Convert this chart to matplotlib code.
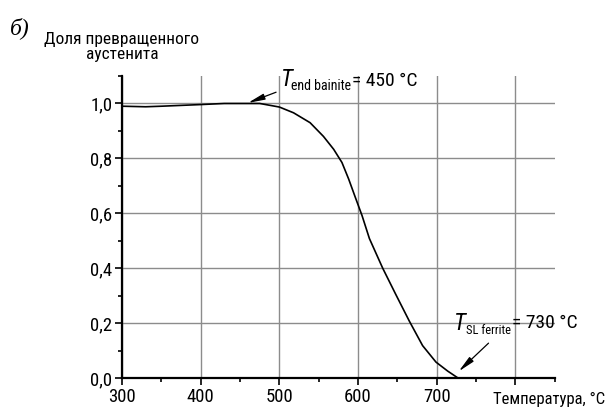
import numpy as np
import matplotlib
matplotlib.use('Agg')
import matplotlib.pyplot as plt
from matplotlib.ticker import MultipleLocator, FuncFormatter

fonts = ['Roboto Condensed', 'Open Sans Condensed', 'Liberation Sans Narrow', 'Liberation Sans', 'DejaVu Sans']
plt.rcParams['font.family'] = fonts

# кривая доли превращенного аустенита
temp = [300, 330, 350, 400, 430, 450, 475, 500, 518, 539, 556, 569, 579.5, 588,
        596.5, 605, 614.4, 631.3, 648, 665, 682, 699, 714, 727, 750]
frac = [0.99, 0.988, 0.99, 0.996, 1.0, 1.0, 1.0, 0.987, 0.966, 0.93, 0.88, 0.833, 0.785, 0.725,
        0.658, 0.592, 0.508, 0.40, 0.304, 0.208, 0.118, 0.058, 0.025, 0.0, 0.0]

x_ticks = [300, 400, 500, 600, 700, 800]
x_labels = ['300', '400', '500', '600', '700', '']
y_ticks = [0.0, 0.2, 0.4, 0.6, 0.8, 1.0]

fig = plt.figure(figsize=(6.11, 4.08), dpi=100)
ax = fig.add_axes([0.1997, 0.0735, 0.7083, 0.7402])

ax.plot(temp, frac, color='black', lw=1.2)

ax.set_xlim(300, 850)
ax.set_ylim(0, 1.1)
ax.set_xticks(x_ticks)
ax.set_xticklabels(x_labels)
ax.set_yticks(y_ticks)
ax.yaxis.set_major_formatter(FuncFormatter(lambda v, p: ('%.1f' % v).replace('.', ',')))
ax.xaxis.set_minor_locator(MultipleLocator(50))
ax.yaxis.set_minor_locator(MultipleLocator(0.1))
ax.grid(True, which='major', color='#8c8c8c', lw=1.0)
ax.set_axisbelow(True)

for s in ['top', 'right']:
    ax.spines[s].set_visible(False)
for s in ['left', 'bottom']:
    ax.spines[s].set_linewidth(1.6)
ax.tick_params(which='major', direction='out', length=5, width=1.2, labelsize=13.5, pad=2)
ax.tick_params(which='minor', direction='out', length=3, width=1.2)

arrow = dict(arrowstyle='-|>,head_length=1.0,head_width=0.18', color='black', lw=0.9,
             shrinkA=0, shrinkB=0, mutation_scale=10)

# T end bainite
ax.annotate('', xy=(460, 1.002), xytext=(495.8, 1.041), arrowprops=arrow)
ax.text(502.5, 1.063, 'T', fontsize=17, style='italic', va='baseline', ha='left')
ax.text(515, 1.048, 'end bainite', fontsize=10, va='baseline', ha='left')
ax.text(592, 1.063, '= 450 °C', fontsize=14, va='baseline', ha='left')

# T SL ferrite
ax.annotate('', xy=(727.8, 0.024), xytext=(765.8, 0.127), arrowprops=arrow)
ax.text(721.5, 0.175, 'T', fontsize=17, style='italic', va='baseline', ha='left')
ax.text(736.7, 0.16, 'SL ferrite', fontsize=9, va='baseline', ha='left')
ax.text(795, 0.182, '= 730 °C', fontsize=14, va='baseline', ha='left')

fig.text(122 / 611, 1 - 47 / 408, 'Доля превращенного\nаустенита', ha='center', va='center',
         fontsize=12.5, linespacing=1.05)
fig.text(493 / 611, 1 - 399 / 408, 'Температура, °C', ha='left', va='center', fontsize=12)
fig.text(10 / 611, 1 - 28 / 408, 'б)', ha='left', va='center', fontsize=17,
         family='Liberation Serif', style='italic')

fig.savefig('out.png', dpi=100)
